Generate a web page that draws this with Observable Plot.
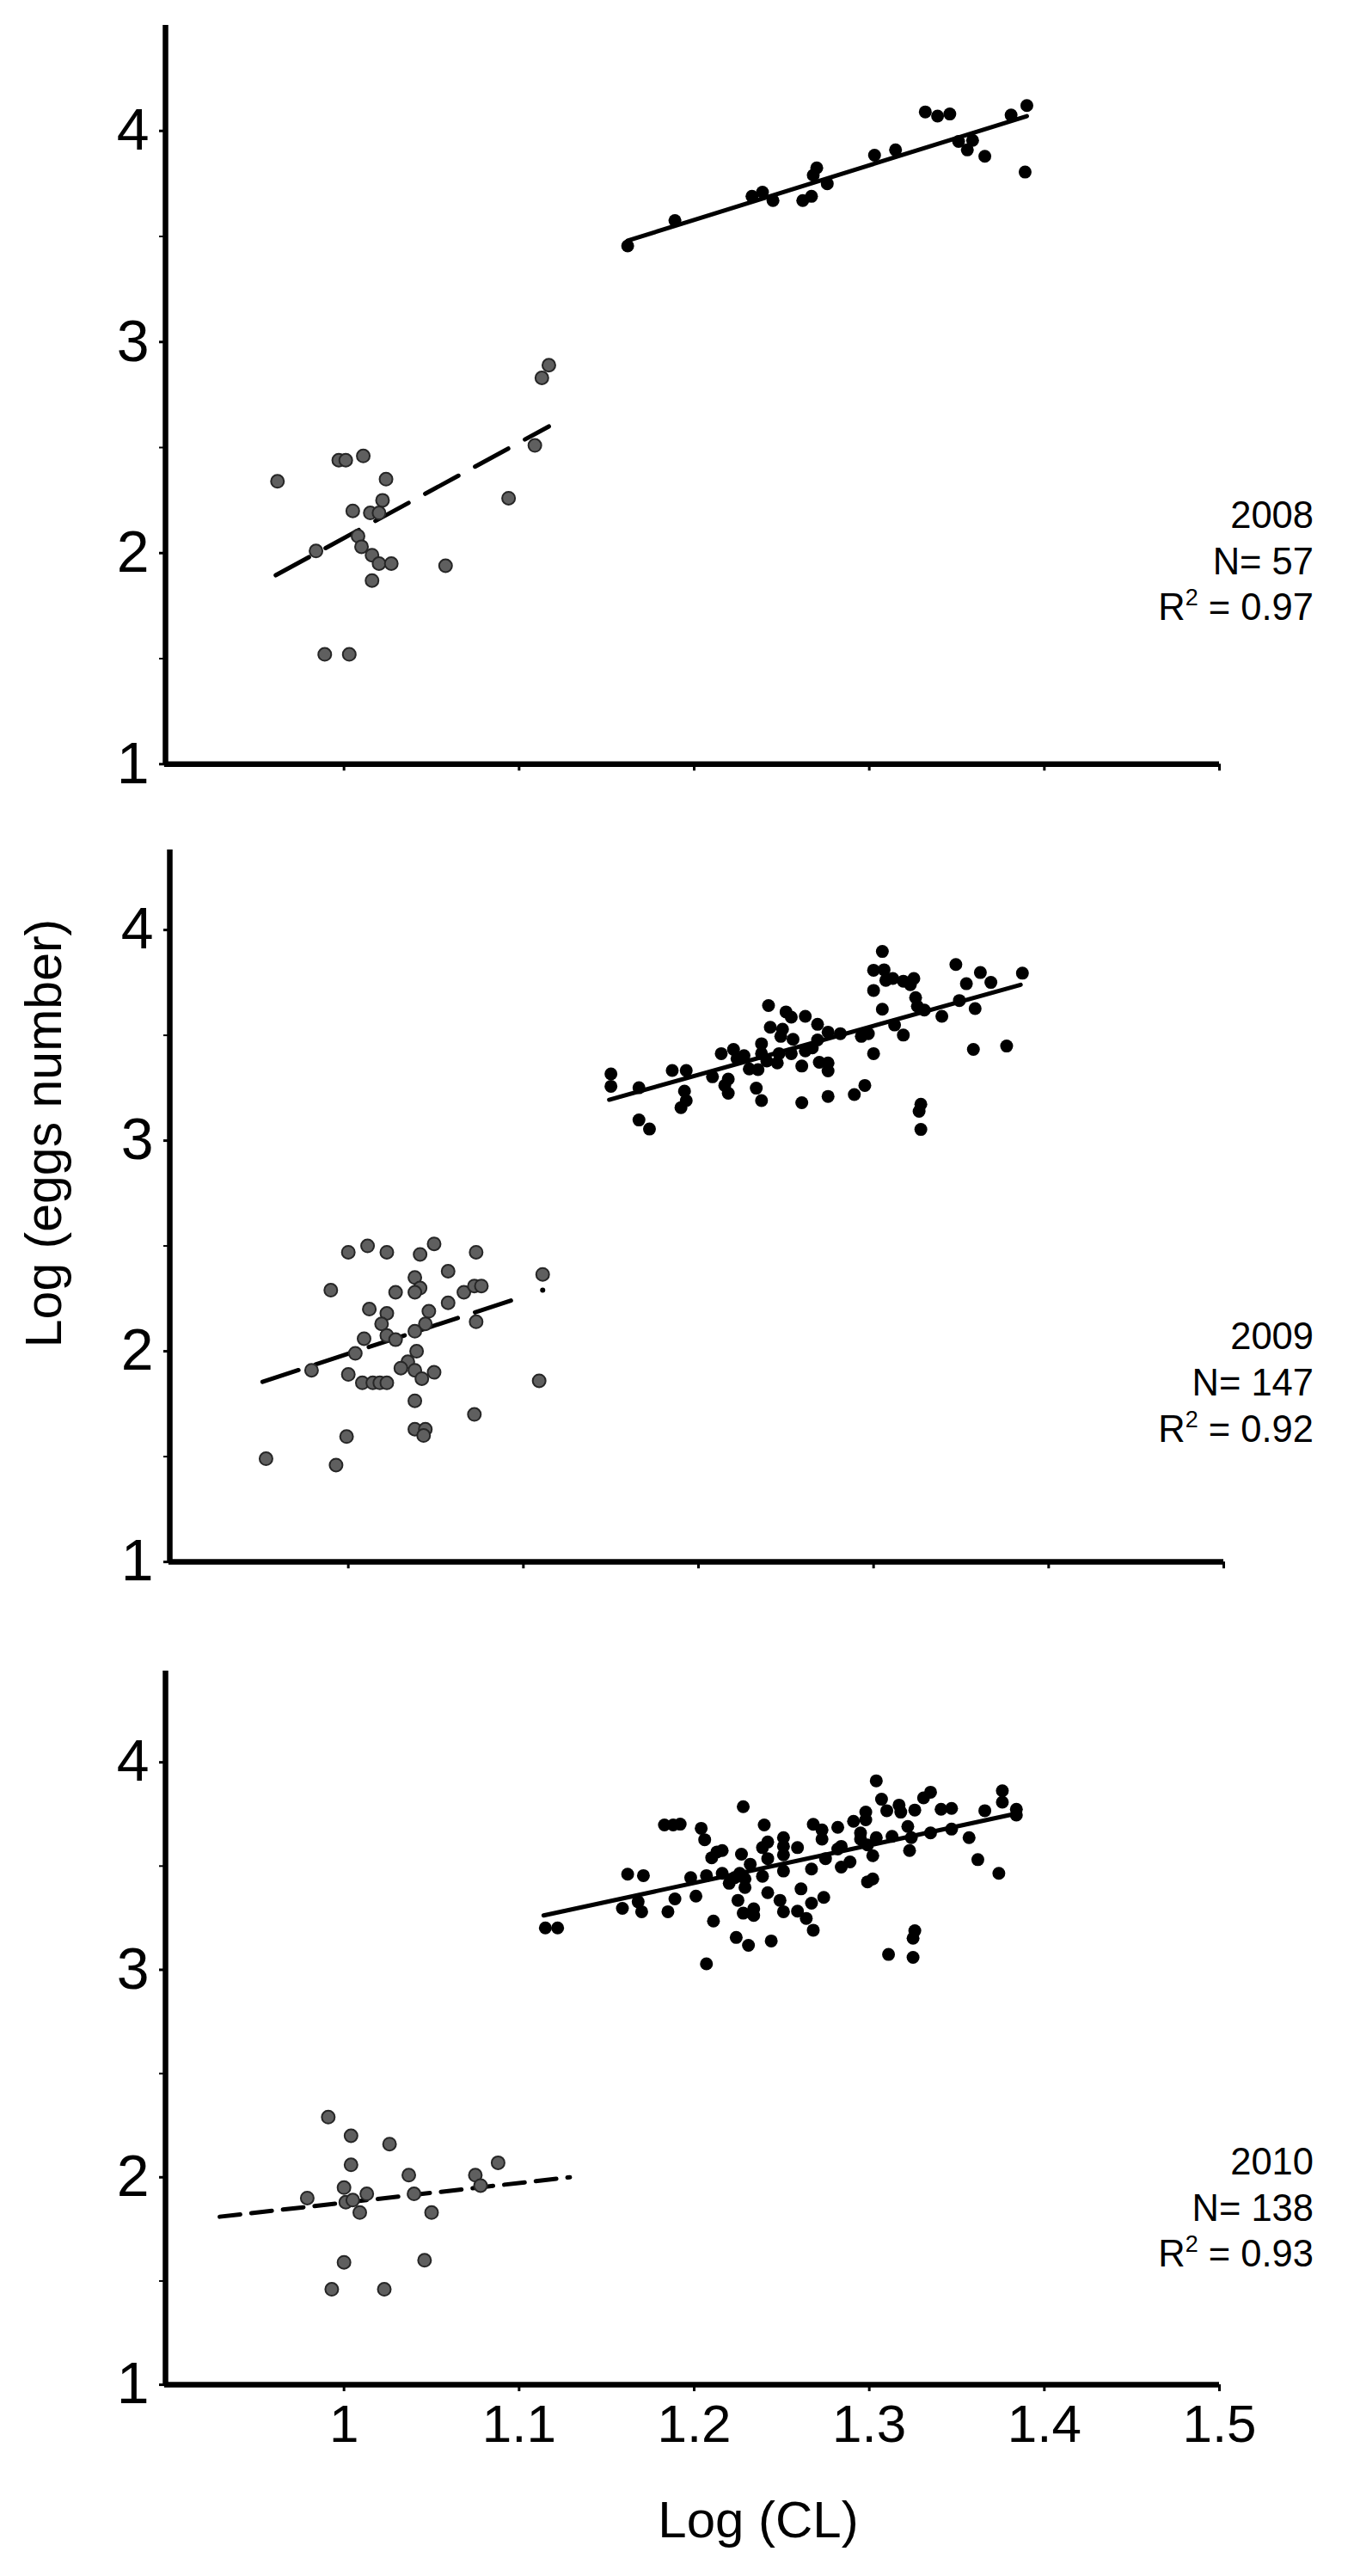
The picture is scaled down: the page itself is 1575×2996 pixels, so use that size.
<!DOCTYPE html>
<html><head><meta charset="utf-8">
<script src="https://cdn.jsdelivr.net/npm/d3@7"></script>
<script src="https://cdn.jsdelivr.net/npm/@observablehq/plot@0.6"></script>
<style>
html,body{margin:0;padding:0;background:#fff;overflow:hidden;}
#page{position:relative;width:1575px;height:2996px;overflow:hidden;font-family:"Liberation Sans",Arial,sans-serif;}
#page svg{position:absolute;left:0;max-width:none;}
</style></head><body><div id="page"></div>
<script>
// ---------- data ----------
const xTicks = [1, 1.1, 1.2, 1.3, 1.4, 1.5];
const yTicks = [1, 2, 3, 4];
const yMinorTicks = [1.5, 2.5, 3.5];
const years = ["2008", "2009", "2010"];
const nValues = [57, 147, 138];
const r2Values = ["0.97", "0.92", "0.93"];
const xLabel = "Log (CL)";
const yLabel = "Log (eggs number)";

// 2008
const small2008 = [[0.962,2.34],[0.984,2.01],[0.997,2.44],[1.001,2.44],[1.011,2.46],[1.005,2.20],[1.024,2.35],[1.022,2.25],[1.015,2.19],[1.020,2.19],[1.008,2.08],[1.010,2.03],[1.016,1.99],[1.020,1.95],[1.027,1.95],[1.016,1.87],[1.058,1.94],[0.989,1.52],[1.003,1.52],[1.094,2.26],[1.109,2.51],[1.113,2.83],[1.117,2.89]];
const large2008 = [[1.162,3.455],[1.189,3.575],[1.233,3.69],[1.239,3.71],[1.245,3.67],[1.262,3.67],[1.267,3.69],[1.270,3.825],[1.268,3.79],[1.276,3.75],[1.303,3.885],[1.315,3.91],[1.332,4.09],[1.339,4.07],[1.346,4.08],[1.351,3.95],[1.356,3.91],[1.359,3.955],[1.366,3.88],[1.381,4.075],[1.390,4.12],[1.389,3.805]];
const smallFit2008 = [[0.961,1.895],[1.117,2.60]];
const largeFit2008 = [[1.162,3.48],[1.390,4.07]];

// 2009
const small2009 = [[0.953,1.49],[0.993,1.46],[0.999,1.595],[0.979,1.91],[0.990,2.29],[1.000,2.47],[1.011,2.50],[1.022,2.47],[1.041,2.46],[1.049,2.51],[1.073,2.47],[1.057,2.38],[1.038,2.35],[1.041,2.30],[1.038,2.28],[1.027,2.28],[1.066,2.28],[1.072,2.31],[1.076,2.31],[1.057,2.23],[1.012,2.20],[1.022,2.18],[1.046,2.19],[1.019,2.13],[1.044,2.13],[1.073,2.14],[1.009,2.06],[1.022,2.075],[1.027,2.055],[1.038,2.095],[1.004,1.99],[1.039,2.00],[1.034,1.95],[1.030,1.92],[1.038,1.91],[1.049,1.90],[1.000,1.89],[1.008,1.85],[1.014,1.85],[1.018,1.85],[1.022,1.85],[1.042,1.87],[1.038,1.765],[1.072,1.70],[1.038,1.63],[1.044,1.63],[1.043,1.60],[1.109,1.86],[1.111,2.365]];
const large2009 = [[1.150,3.317],[1.150,3.258],[1.166,3.251],[1.166,3.098],[1.172,3.055],[1.185,3.333],[1.193,3.333],[1.192,3.235],[1.193,3.190],[1.190,3.157],[1.208,3.303],[1.213,3.413],[1.217,3.292],[1.215,3.262],[1.217,3.225],[1.220,3.433],[1.222,3.389],[1.226,3.403],[1.229,3.340],[1.234,3.337],[1.233,3.249],[1.236,3.190],[1.236,3.460],[1.236,3.413],[1.240,3.641],[1.241,3.538],[1.239,3.378],[1.245,3.369],[1.246,3.413],[1.248,3.529],[1.247,3.495],[1.250,3.611],[1.253,3.586],[1.253,3.413],[1.254,3.481],[1.259,3.354],[1.259,3.180],[1.261,3.590],[1.261,3.426],[1.265,3.440],[1.268,3.552],[1.268,3.478],[1.269,3.372],[1.274,3.369],[1.274,3.331],[1.274,3.515],[1.274,3.210],[1.281,3.508],[1.289,3.219],[1.295,3.262],[1.293,3.495],[1.297,3.508],[1.300,3.413],[1.300,3.809],[1.300,3.713],[1.305,3.898],[1.306,3.811],[1.307,3.761],[1.311,3.770],[1.317,3.757],[1.321,3.740],[1.323,3.770],[1.305,3.624],[1.312,3.549],[1.317,3.501],[1.324,3.679],[1.325,3.638],[1.329,3.620],[1.327,3.173],[1.326,3.139],[1.327,3.053],[1.339,3.590],[1.347,3.836],[1.349,3.665],[1.353,3.745],[1.361,3.798],[1.367,3.751],[1.358,3.627],[1.357,3.433],[1.376,3.449],[1.385,3.795]];
const smallFit2009 = [[0.951,1.855],[1.100,2.26]];
const smallFitEnd2009 = [[1.111,2.29]];
const largeFit2009 = [[1.149,3.194],[1.384,3.74]];

// 2010
const small2010 = [[0.991,2.29],[1.004,2.20],[1.026,2.16],[1.004,2.06],[1.037,2.01],[1.075,2.01],[1.088,2.07],[1.078,1.96],[0.979,1.90],[1.000,1.95],[1.001,1.88],[1.005,1.89],[1.013,1.92],[1.040,1.92],[1.009,1.83],[1.050,1.83],[1.000,1.59],[1.046,1.60],[0.993,1.46],[1.023,1.46]];
const large2010 = [[1.115,3.202],[1.122,3.202],[1.159,3.296],[1.162,3.461],[1.171,3.454],[1.168,3.328],[1.170,3.280],[1.185,3.280],[1.189,3.342],[1.183,3.698],[1.188,3.698],[1.192,3.702],[1.204,3.682],[1.206,3.627],[1.198,3.444],[1.201,3.355],[1.207,3.454],[1.211,3.235],[1.210,3.540],[1.213,3.568],[1.216,3.575],[1.207,3.029],[1.224,3.156],[1.231,3.118],[1.227,3.557],[1.228,3.786],[1.216,3.465],[1.220,3.417],[1.223,3.444],[1.226,3.465],[1.229,3.438],[1.232,3.509],[1.225,3.335],[1.228,3.273],[1.234,3.294],[1.234,3.262],[1.240,3.698],[1.242,3.616],[1.239,3.589],[1.242,3.536],[1.239,3.451],[1.242,3.372],[1.244,3.139],[1.251,3.637],[1.251,3.595],[1.251,3.554],[1.251,3.476],[1.249,3.335],[1.251,3.280],[1.229,3.397],
  [1.259,3.589],[1.261,3.390],[1.259,3.283],[1.264,3.248],[1.267,3.321],[1.268,3.191],[1.267,3.486],[1.268,3.701],[1.273,3.674],[1.273,3.630],[1.274,3.349],[1.275,3.536],[1.282,3.687],[1.282,3.582],[1.284,3.595],[1.284,3.495],[1.289,3.520],[1.291,3.716],[1.295,3.660],[1.295,3.630],[1.298,3.760],[1.298,3.723],[1.299,3.602],[1.302,3.550],[1.304,3.637],[1.299,3.424],[1.302,3.438],[1.304,3.911],[1.307,3.822],[1.310,3.767],[1.313,3.643],[1.317,3.794],[1.318,3.760],[1.322,3.691],[1.324,3.637],[1.323,3.575],[1.326,3.770],[1.331,3.829],[1.335,3.856],[1.335,3.660],[1.341,3.774],[1.347,3.778],[1.347,3.678],[1.357,3.637],[1.362,3.531],[1.366,3.767],[1.374,3.465],[1.376,3.863],[1.376,3.808],[1.384,3.774],[1.384,3.746],[1.326,3.188],[1.325,3.152],[1.311,3.074],[1.325,3.060]];
const smallFit2010 = [[0.929,1.81],[1.129,2.00]];
const largeFit2010 = [[1.114,3.262],[1.384,3.753]];

// ---------- layout ----------
const FONT = "Liberation Sans, Arial, Helvetica, sans-serif";
const W = 1575, ML = 196, MR = 157, MT = 20;
const panels = [
  {small: small2008, large: large2008, sFit: smallFit2008, sEnd: [], lFit: largeFit2008, dash: "44,22", yMax: 4.5,  unit: 245.5, base: 888,  mb: 40,  shift: 0, labels: false, ann: [614, 668, 721]},
  {small: small2009, large: large2009, sFit: smallFit2009, sEnd: smallFitEnd2009, lFit: largeFit2009, dash: "44,21", yMax: 4.38, unit: 245, base: 1816, mb: 40, shift: 5, labels: false, ann: [1569, 1623, 1677]},
  {small: small2010, large: large2010, sFit: smallFit2010, sEnd: [], lFit: largeFit2010, dash: "24,13", yMax: 4.44, unit: 241.3, base: 2773, mb: 110, shift: 0, labels: true,  ann: [2529, 2583, 2636]}
];

const page = document.getElementById("page");
const X = d => d[0], Y = d => d[1];

panels.forEach((p, i) => {
  const plotH = (p.yMax - 1) * p.unit;
  const chart = Plot.plot({
    width: W,
    height: MT + plotH + p.mb,
    marginLeft: ML, marginRight: MR, marginTop: MT, marginBottom: p.mb,
    x: {domain: [0.9, 1.5]},
    y: {domain: [1, p.yMax]},
    style: {fontFamily: FONT, background: "transparent", overflow: "visible", color: "#000"},
    marks: [
      Plot.axisY({ticks: yMinorTicks, tickSize: 7, dx: -4, strokeWidth: 2, tickFormat: () => "", label: null}),
      Plot.axisY({ticks: yTicks, tickSize: 7, tickPadding: 12, dx: -4, strokeWidth: 3, fontSize: 68, tickFormat: d => String(d), label: null}),
      Plot.axisX({ticks: xTicks, tickSize: 8, tickPadding: 14, strokeWidth: 3, fontSize: 62, tickFormat: p.labels ? (d => String(d)) : (() => ""), label: null}),
      Plot.ruleX([0.9], {y1: 1, y2: p.yMax, dx: -4, strokeWidth: 6.5}),
      Plot.ruleY([1], {x1: 0.8975, x2: 1.5, strokeWidth: 6.5}),
      Plot.line(p.sFit, {x: X, y: Y, stroke: "#000", strokeWidth: 5, strokeDasharray: p.dash}),
      Plot.dot(p.sEnd, {x: X, y: Y, r: 3, fill: "#000"}),
      Plot.line(p.lFit, {x: X, y: Y, stroke: "#000", strokeWidth: 5}),
      Plot.dot(p.small, {x: X, y: Y, r: 7.5, fill: "#5f5f5f", stroke: "#262626", strokeWidth: 2}),
      Plot.dot(p.large, {x: X, y: Y, r: 7.5, fill: "#000", stroke: "none"})
    ]
  });
  chart.style.top = (p.base - MT - plotH) + "px";
  chart.style.left = p.shift + "px";
  page.appendChild(chart);
});

// ---------- overlay texts ----------
const ns = "http://www.w3.org/2000/svg";
const ov = document.createElementNS(ns, "svg");
ov.setAttribute("width", W); ov.setAttribute("height", 2996);
ov.style.top = "0px"; ov.style.pointerEvents = "none";
ov.setAttribute("font-family", FONT);
page.appendChild(ov);
function txt(s, x, y, size, anchor, transform) {
  const t = document.createElementNS(ns, "text");
  t.setAttribute("x", x); t.setAttribute("y", y);
  t.setAttribute("font-size", size); t.setAttribute("text-anchor", anchor);
  if (transform) t.setAttribute("transform", transform);
  t.textContent = s; ov.appendChild(t); return t;
}
panels.forEach((p, i) => {
  const R = 1528, fs = 43.5;
  txt(years[i], R, p.ann[0], fs, "end");
  txt("N= " + nValues[i], R, p.ann[1], fs, "end");
  const t = txt("R", R, p.ann[2], fs, "end");
  const sup = document.createElementNS(ns, "tspan");
  sup.setAttribute("dy", -17); sup.setAttribute("font-size", 27); sup.textContent = "2";
  const rest = document.createElementNS(ns, "tspan");
  rest.setAttribute("dy", 17); rest.textContent = " = " + r2Values[i];
  t.appendChild(sup); t.appendChild(rest);
});
txt(xLabel, 882, 2951, 60, "middle");
txt(yLabel, 0, 0, 59, "middle", "translate(71,1318) rotate(-90)");
</script>
</body></html>
